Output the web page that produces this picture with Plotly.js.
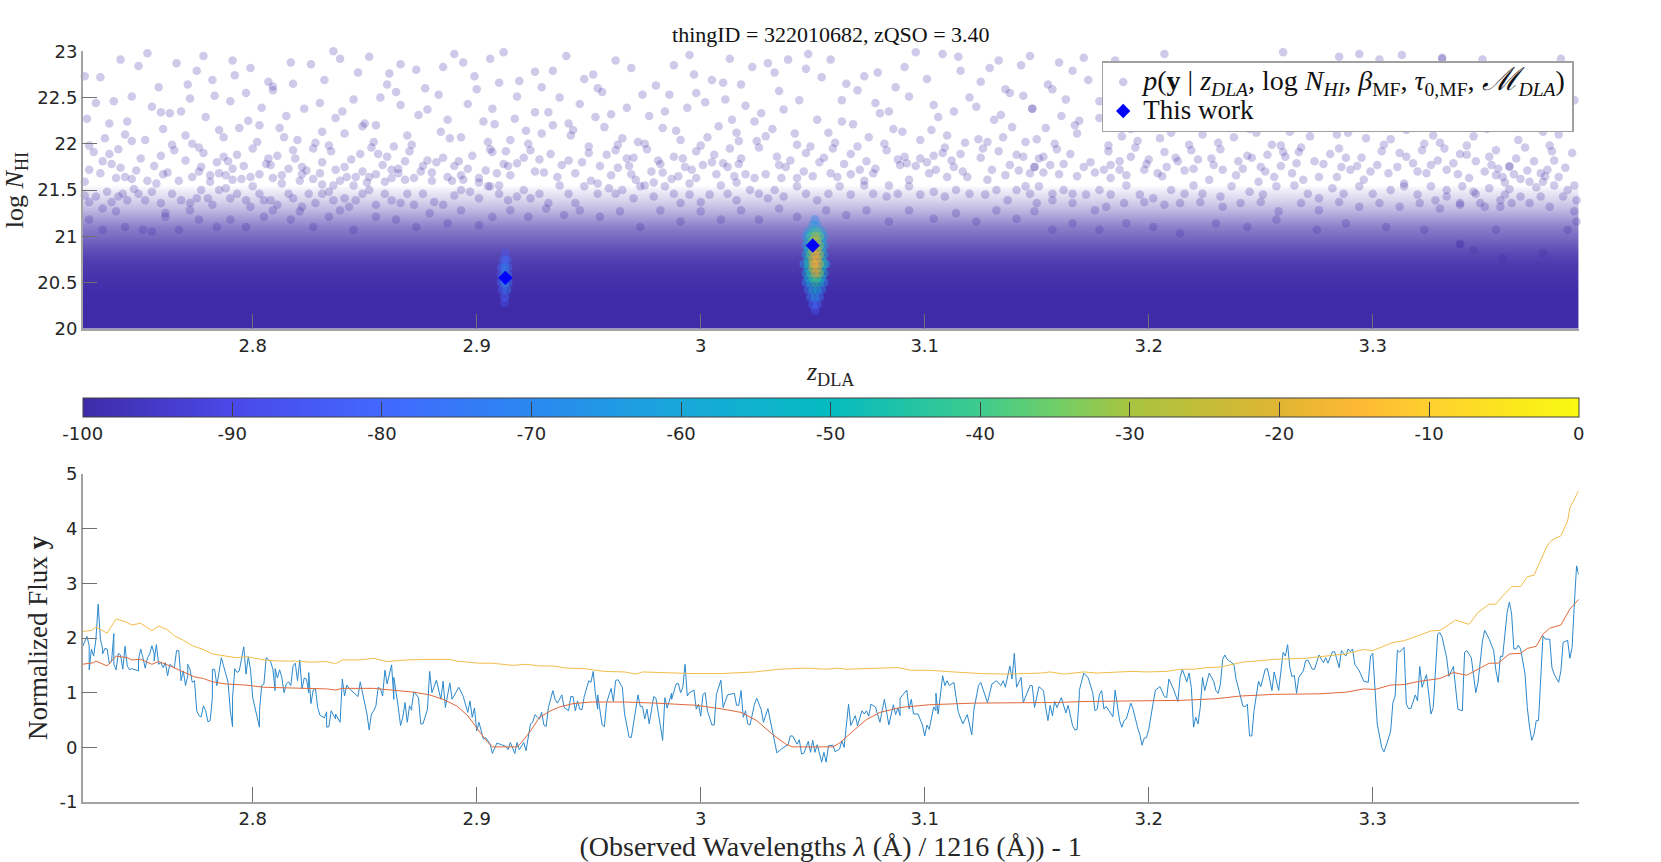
<!DOCTYPE html>
<html>
<head>
<meta charset="utf-8">
<script src="https://cdn.plot.ly/plotly-3.0.1.min.js"></script>
<style>html,body{margin:0;padding:0;background:#fff}</style>
</head>
<body>
<div id="chart" style="width:1661px;height:862px"></div>
<script>
/***** values, [z, value] *****/
var samplesLeft = [[2.725,22.73],[2.732,22.72],[2.741,22.91],[2.749,22.84],[2.753,22.98],[2.766,22.87],[2.778,22.95],[2.791,22.90],[2.799,22.82],[2.775,22.79],[2.792,22.74],[2.782,22.69],[2.771,22.64],[2.758,22.61],[2.746,22.51],[2.738,22.46],[2.730,22.44],[2.772,22.49],[2.783,22.52],[2.797,22.55],[2.790,22.46],[2.755,22.40],[2.759,22.34],[2.763,22.33],[2.768,22.35],[2.779,22.29],[2.726,22.27],[2.736,22.22],[2.744,22.24],[2.760,22.16],[2.785,22.15],[2.794,22.17],[2.798,22.25],[2.804,22.39],[2.803,22.20],[2.807,22.67],[2.809,22.62],[2.809,22.58],[2.817,22.88],[2.826,22.86],[2.818,22.65],[2.832,22.69],[2.836,23.00],[2.839,22.92],[2.852,22.94],[2.847,22.77],[2.866,22.86],[2.873,22.80],[2.861,22.76],[2.860,22.64],[2.864,22.56],[2.857,22.50],[2.866,22.42],[2.877,22.60],[2.883,22.53],[2.885,22.83],[2.890,22.97],[2.894,22.88],[2.906,22.92],[2.912,22.99],[2.899,22.73],[2.900,22.59],[2.910,22.66],[2.918,22.51],[2.919,22.68],[2.896,22.43],[2.907,22.38],[2.917,22.27],[2.903,22.24],[2.908,22.21],[2.887,22.26],[2.878,22.37],[2.874,22.31],[2.845,22.48],[2.840,22.35],[2.837,22.28],[2.850,22.22],[2.849,22.19],[2.855,22.20],[2.830,22.44],[2.823,22.38],[2.815,22.30],[2.812,22.17],[2.831,22.13],[2.841,22.11],[2.814,22.07],[2.787,22.07],[2.770,22.09],[2.743,22.10],[2.734,22.06],[2.746,22.03],[2.752,22.04],[2.773,22.00],[2.764,21.99],[2.776,21.96],[2.765,21.93],[2.778,21.90],[2.802,22.02],[2.800,21.95],[2.820,22.04],[2.828,22.01],[2.827,21.95],[2.818,21.93],[2.834,21.98],[2.835,21.92],[2.854,22.02],[2.853,21.96],[2.869,22.09],[2.863,21.97],[2.871,21.99],[2.870,21.92],[2.884,22.13],[2.888,22.06],[2.893,22.07],[2.905,22.02],[2.906,21.94],[2.907,21.91],[2.913,21.92],[2.915,22.04],[2.727,21.98],[2.729,21.91],[2.740,21.94],[2.736,21.89],[2.733,21.81],[2.737,21.78],[2.750,21.84],[2.759,21.87],[2.756,21.76],[2.770,21.82],[2.748,21.71],[2.741,21.74],[2.727,21.72],[2.732,21.68],[2.787,21.86],[2.784,21.80],[2.789,21.81],[2.793,21.88],[2.791,21.73],[2.796,21.76],[2.807,21.84],[2.806,21.78],[2.808,21.77],[2.811,21.87],[2.819,21.84],[2.816,21.73],[2.822,21.75],[2.831,21.80],[2.844,21.83],[2.848,21.89],[2.841,21.75],[2.837,21.72],[2.849,21.70],[2.856,21.89],[2.860,21.86],[2.858,21.77],[2.868,21.81],[2.865,21.73],[2.862,21.72],[2.855,21.67],[2.878,21.82],[2.876,21.76],[2.882,21.80],[2.885,21.85],[2.892,21.81],[2.898,21.87],[2.890,21.76],[2.896,21.73],[2.904,21.71],[2.912,21.78],[2.914,21.76],[2.918,21.79],[2.909,21.68],[2.915,21.66],[2.725,21.59],[2.743,21.64],[2.739,21.63],[2.746,21.62],[2.753,21.60],[2.757,21.57],[2.760,21.67],[2.762,21.69],[2.767,21.60],[2.773,21.64],[2.776,21.70],[2.777,21.75],[2.781,21.66],[2.781,21.59],[2.785,21.68],[2.788,21.66],[2.791,21.61],[2.795,21.62],[2.799,21.64],[2.800,21.54],[2.803,21.67],[2.809,21.63],[2.813,21.66],[2.813,21.57],[2.821,21.60],[2.822,21.67],[2.824,21.71],[2.827,21.62],[2.830,21.68],[2.831,21.56],[2.836,21.55],[2.839,21.60],[2.842,21.64],[2.846,21.64],[2.845,21.55],[2.852,21.64],[2.851,21.58],[2.859,21.59],[2.862,21.63],[2.865,21.68],[2.868,21.61],[2.872,21.63],[2.875,21.70],[2.880,21.69],[2.880,21.60],[2.887,21.64],[2.889,21.60],[2.893,21.66],[2.894,21.61],[2.901,21.63],[2.901,21.58],[2.905,21.54],[2.910,21.55]];
var samplesMiddle = [[2.940,22.95],[2.926,22.78],[2.934,22.79],[2.929,22.61],[2.937,22.50],[2.962,22.90],[2.969,22.82],[2.948,22.70],[2.952,22.75],[2.954,22.60],[2.956,22.56],[2.946,22.43],[2.926,22.34],[2.932,22.34],[2.941,22.22],[2.934,22.20],[2.943,22.15],[2.942,22.09],[2.953,22.29],[2.960,22.32],[2.967,22.39],[2.957,22.18],[2.922,22.14],[2.929,22.11],[2.923,22.00],[2.924,21.93],[2.921,21.85],[2.928,21.83],[2.933,21.89],[2.950,21.97],[2.950,21.90],[2.941,21.82],[2.938,21.77],[2.947,21.80],[2.965,22.06],[2.963,21.99],[2.962,21.93],[2.958,21.88],[2.967,21.84],[2.970,21.85],[2.955,21.76],[2.963,21.74],[2.968,21.76],[2.974,22.53],[2.980,22.63],[2.986,22.53],[2.988,22.85],[2.995,22.96],[2.997,22.75],[3.005,22.69],[3.010,22.66],[3.013,22.92],[3.018,22.64],[3.023,22.83],[3.030,22.87],[3.033,22.77],[3.039,22.91],[3.047,22.81],[3.048,22.97],[3.058,22.91],[3.054,22.72],[3.065,22.65],[3.073,22.73],[3.079,22.77],[3.091,22.83],[3.096,22.99],[3.108,22.97],[3.115,22.94],[3.116,22.79],[3.129,22.82],[3.133,22.90],[3.143,22.85],[3.147,22.95],[3.101,22.70],[3.087,22.61],[3.070,22.58],[3.035,22.57],[2.998,22.55],[3.002,22.45],[3.011,22.48],[3.020,22.41],[3.044,22.47],[3.063,22.47],[3.078,22.44],[3.093,22.51],[3.120,22.50],[3.125,22.67],[3.136,22.59],[3.138,22.55],[3.144,22.52],[3.123,22.40],[3.104,22.42],[3.106,22.29],[3.113,22.35],[3.084,22.35],[3.080,22.33],[3.148,22.38],[3.134,22.31],[3.131,22.26],[3.139,22.18],[2.994,22.39],[2.984,22.35],[2.977,22.30],[3.014,22.26],[3.024,22.24],[3.027,22.33],[3.037,22.37],[3.052,22.26],[3.063,22.24],[3.068,22.21],[3.008,22.19],[2.983,22.17],[2.989,22.14],[3.016,22.12],[3.032,22.16],[3.029,22.08],[3.042,22.11],[3.057,22.12],[3.075,22.07],[3.086,22.16],[3.090,22.13],[3.103,22.15],[3.110,22.09],[3.098,22.04],[3.124,22.05],[3.128,22.02],[3.135,22.07],[3.118,22.01],[3.145,22.02],[3.150,22.05],[2.991,22.04],[3.003,22.07],[3.017,22.03],[3.025,22.03],[3.026,21.96],[3.043,21.99],[3.049,21.97],[3.047,21.90],[3.060,22.01],[3.059,21.95],[3.070,21.97],[3.067,21.89],[3.082,22.00],[3.083,21.93],[3.109,21.96],[3.108,21.90],[3.116,21.89],[3.126,21.95],[3.133,21.92],[3.125,21.85],[3.141,21.88],[3.144,21.86],[2.972,22.02],[2.975,22.00],[2.976,21.94],[3.000,21.98],[2.998,21.92],[3.013,21.95],[3.006,21.88],[2.988,21.86],[2.992,21.84],[3.005,21.80],[3.001,21.77],[3.018,21.84],[3.017,21.78],[3.034,21.86],[3.040,21.82],[3.055,21.85],[3.053,21.80],[3.064,21.78],[3.074,21.81],[3.088,21.83],[3.091,21.86],[3.089,21.77],[3.092,21.79],[3.098,21.84],[3.096,21.76],[3.104,21.87],[3.101,21.80],[3.112,21.82],[3.113,21.75],[3.138,21.77],[3.130,21.72],[3.149,21.75],[3.151,21.84],[3.142,21.71],[3.147,21.68],[3.117,21.70],[3.105,21.72],[3.078,21.73],[3.071,21.72],[3.058,21.68],[3.046,21.70],[3.035,21.77],[3.038,21.75],[3.012,21.75],[3.010,21.79],[2.993,21.75],[2.996,21.72],[2.982,21.78],[2.981,21.82],[2.978,21.70],[2.983,21.69],[2.926,21.70],[2.930,21.69],[2.936,21.64],[2.944,21.68],[2.951,21.60],[2.954,21.57],[2.960,21.66],[2.969,21.67],[2.971,21.61],[2.973,21.54],[2.979,21.58],[2.987,21.62],[2.990,21.65],[2.995,21.57],[2.998,21.63],[3.007,21.67],[3.015,21.65],[3.016,21.58],[3.020,21.67],[3.024,21.63],[3.029,21.67],[3.036,21.63],[3.043,21.63],[3.050,21.65],[3.061,21.64],[3.067,21.67],[3.073,21.60],[3.077,21.68],[3.084,21.55],[3.093,21.61],[3.102,21.68],[3.110,21.64],[3.119,21.64],[3.128,21.61],[3.136,21.66],[3.145,21.54]];
var samplesRight = [[3.171,22.93],[3.160,22.88],[3.166,22.79],[3.155,22.64],[3.157,22.59],[3.173,22.69],[3.163,22.48],[3.148,22.38],[3.178,22.46],[3.161,22.30],[3.169,22.25],[3.167,22.20],[3.154,22.17],[3.168,22.11],[3.178,22.28],[3.207,22.97],[3.260,22.99],[3.285,22.94],[3.294,22.97],[3.313,22.96],[3.303,22.91],[3.331,22.92],[3.349,22.91],[3.185,22.90],[3.188,22.08],[3.195,22.03],[3.194,21.96],[3.192,22.16],[3.182,21.98],[3.182,21.92],[3.192,21.86],[3.205,22.06],[3.210,22.12],[3.224,22.10],[3.238,22.07],[3.245,22.16],[3.248,22.12],[3.263,22.13],[3.272,22.08],[3.284,22.10],[3.289,22.12],[3.297,22.06],[3.298,22.17],[3.315,22.15],[3.327,22.09],[3.337,22.18],[3.351,22.16],[3.345,22.08],[3.308,22.05],[3.305,21.99],[3.304,21.92],[3.218,21.99],[3.219,21.93],[3.231,22.01],[3.232,21.94],[3.255,21.99],[3.259,21.98],[3.261,21.86],[3.260,21.91],[3.268,21.96],[3.267,21.91],[3.285,21.95],[3.281,21.89],[3.323,22.00],[3.322,21.93],[3.330,22.01],[3.332,21.95],[3.342,21.98],[3.342,21.88],[3.339,21.89],[3.355,21.93],[3.352,21.86],[3.207,21.91],[3.165,21.89],[3.158,22.00],[3.159,21.94],[3.153,21.86],[3.174,21.80],[3.187,21.81],[3.183,21.77],[3.200,21.83],[3.199,21.78],[3.212,21.85],[3.213,21.81],[3.222,21.83],[3.228,21.84],[3.229,21.77],[3.240,21.81],[3.244,21.87],[3.246,21.85],[3.253,21.88],[3.250,21.75],[3.259,21.76],[3.266,21.79],[3.274,21.81],[3.278,21.78],[3.288,21.85],[3.286,21.75],[3.295,21.85],[3.302,21.77],[3.293,21.76],[3.311,21.75],[3.312,21.90],[3.315,21.86],[3.318,21.79],[3.329,21.82],[3.326,21.77],[3.336,21.79],[3.346,21.81],[3.353,21.77],[3.361,21.75],[3.149,21.75],[3.156,21.77],[3.162,21.78],[3.153,21.69],[3.160,21.67],[3.168,21.65],[3.171,21.75],[3.176,21.69],[3.180,21.72],[3.183,21.63],[3.187,21.72],[3.190,21.66],[3.198,21.72],[3.204,21.68],[3.206,21.65],[3.208,21.75],[3.216,21.71],[3.220,21.73],[3.227,21.61],[3.233,21.72],[3.239,21.66],[3.242,21.73],[3.249,21.59],[3.252,21.70],[3.256,21.64],[3.264,21.68],[3.269,21.61],[3.276,21.64],[3.284,21.64],[3.290,21.72],[3.296,21.61],[3.299,21.70],[3.307,21.68],[3.314,21.57],[3.320,21.70],[3.324,21.68],[3.333,21.72],[3.338,21.67],[3.343,21.63],[3.350,21.70],[3.355,21.66],[3.358,21.64],[3.331,22.93],[3.384,22.92],[3.388,22.80],[3.390,22.47],[3.376,22.13],[3.383,22.10],[3.365,22.04],[3.368,21.96],[3.379,21.98],[3.380,21.92],[3.389,21.90],[3.381,21.82],[3.364,21.84],[3.372,21.81],[3.361,21.76],[3.356,21.73],[3.386,21.74],[3.378,21.72],[3.369,21.71],[3.363,21.67],[3.375,21.68],[3.377,21.65],[3.383,21.64],[3.392,21.63],[3.366,21.62],[3.359,21.58],[3.370,21.59],[3.376,21.59],[3.381,21.55],[3.390,21.55],[3.361,21.51],[3.373,21.53],[3.387,21.50]];
// the crowded edge of the cloud, as far as single discs can still be made out
var samplesEdgeLeft = [[2.725,21.44],[2.727,21.37],[2.724,21.28],[2.730,21.43],[2.735,21.48],[2.733,21.30],[2.737,21.37],[2.740,21.43],[2.742,21.46],[2.744,21.39],[2.747,21.51],[2.749,21.46],[2.752,21.39],[2.755,21.48],[2.759,21.36],[2.761,21.25],[2.764,21.46],[2.768,21.39],[2.772,21.28],[2.772,21.36],[2.775,21.41],[2.777,21.50],[2.780,21.41],[2.782,21.34],[2.785,21.50],[2.788,21.52],[2.790,21.41],[2.793,21.46],[2.797,21.39],[2.799,21.32],[2.803,21.46],[2.805,21.39],[2.808,21.39],[2.811,21.34],[2.816,21.46],[2.818,21.41],[2.822,21.32],[2.825,21.46],[2.828,21.36],[2.831,21.46],[2.834,21.48],[2.836,21.39],[2.841,21.41],[2.843,21.32],[2.846,21.39],[2.849,21.46],[2.852,21.50],[2.855,21.34],[2.859,21.46],[2.862,21.39],[2.866,21.36],[2.869,21.46],[2.872,21.34],[2.876,21.46],[2.881,21.37],[2.885,21.34],[2.890,21.44],[2.893,21.50],[2.897,21.48],[2.901,21.41],[2.906,21.54],[2.910,21.46],[2.914,21.39],[2.918,21.43],[2.727,21.18],[2.733,21.07],[2.739,21.27],[2.743,21.10],[2.751,21.07],[2.755,21.05],[2.761,21.21],[2.767,21.07],[2.776,21.18],[2.784,21.10],[2.790,21.18],[2.797,21.10],[2.805,21.21],[2.809,21.28],[2.817,21.18],[2.821,21.27],[2.827,21.10],[2.834,21.21],[2.839,21.28],[2.845,21.07],[2.855,21.21],[2.864,21.18],[2.873,21.10],[2.879,21.25],[2.887,21.14],[2.893,21.28],[2.901,21.12],[2.907,21.21],[2.915,21.28]];
var samplesEdgeMiddle = [[2.921,21.50],[2.924,21.41],[2.928,21.46],[2.932,21.36],[2.937,21.55],[2.941,21.46],[2.944,21.36],[2.948,21.54],[2.954,21.46],[2.959,21.52],[2.962,21.46],[2.965,21.50],[2.970,21.41],[2.975,21.55],[2.979,21.43],[2.984,21.54],[2.988,21.46],[2.991,21.36],[2.995,21.45],[3.000,21.37],[3.004,21.45],[3.009,21.55],[3.012,21.46],[3.016,21.39],[3.022,21.50],[3.026,21.46],[3.030,21.41],[3.033,21.50],[3.037,21.43],[3.043,21.54],[3.047,21.46],[3.052,21.39],[3.057,21.46],[3.062,21.54],[3.067,21.45],[3.073,21.55],[3.077,21.46],[3.083,21.43],[3.088,21.46],[3.093,21.54],[3.098,21.45],[3.104,21.48],[3.109,21.43],[3.114,21.50],[3.120,21.46],[3.127,21.45],[3.132,21.50],[3.137,21.39],[3.141,21.50],[3.147,21.46],[2.923,21.21],[2.931,21.30],[2.939,21.23],[2.946,21.28],[2.955,21.21],[2.964,21.27],[2.973,21.10],[2.982,21.28],[2.991,21.16],[3.000,21.27],[3.009,21.18],[3.018,21.28],[3.026,21.18],[3.035,21.30],[3.043,21.21],[3.056,21.28],[3.065,21.23],[3.074,21.28],[3.084,21.16],[3.093,21.28],[3.104,21.19],[3.114,21.25],[3.123,21.16],[3.132,21.28],[3.141,21.19],[3.149,21.27]];
var samplesEdgeRight = [[3.151,21.54],[3.157,21.46],[3.162,21.50],[3.166,21.46],[3.172,21.45],[3.178,21.50],[3.183,21.45],[3.190,21.55],[3.196,21.45],[3.202,21.41],[3.210,21.50],[3.216,21.46],[3.220,21.55],[3.224,21.46],[3.232,21.43],[3.237,21.54],[3.245,21.48],[3.251,21.45],[3.257,21.54],[3.265,21.55],[3.271,21.46],[3.276,21.41],[3.282,21.52],[3.287,21.46],[3.294,21.54],[3.300,21.46],[3.308,21.50],[3.314,21.54],[3.320,21.45],[3.326,21.54],[3.333,21.50],[3.340,21.54],[3.346,21.46],[3.352,21.52],[3.359,21.45],[3.150,21.36],[3.157,21.39],[3.166,21.36],[3.176,21.28],[3.181,21.32],[3.189,21.36],[3.198,21.37],[3.207,21.34],[3.214,21.36],[3.223,21.37],[3.233,21.32],[3.241,21.36],[3.250,21.37],[3.258,21.27],[3.268,21.36],[3.276,21.28],[3.285,21.37],[3.294,21.32],[3.303,21.36],[3.312,21.32],[3.321,21.36],[3.330,21.30],[3.339,21.34],[3.348,21.36],[3.357,21.32],[3.157,21.07],[3.166,21.14],[3.178,21.07],[3.190,21.14],[3.202,21.10],[3.214,21.03],[3.230,21.14],[3.244,21.10],[3.257,21.18],[3.275,21.07],[3.288,21.14],[3.306,21.10],[3.323,21.07],[3.339,20.92],[3.355,21.07],[3.328,21.39],[3.333,21.43],[3.339,21.36],[3.345,21.48],[3.350,21.32],[3.357,21.39],[3.362,21.36],[3.366,21.43],[3.370,21.36],[3.375,21.43],[3.379,21.32],[3.385,21.43],[3.391,21.39],[3.390,21.27],[3.391,21.16],[3.387,21.07],[3.376,20.82],[3.339,20.91],[3.358,20.76],[3.345,20.85]];

// density of the sample cloud below the loose points, fraction of full colour per log N row
var bandLogN = [20, 20.2, 20.4, 20.5, 20.6, 20.7, 20.8, 20.9, 21, 21.1, 21.2, 21.3, 21.4, 21.5, 21.56];
var bandDensity = [1, 1, 0.99, 0.97, 0.95, 0.92, 0.87, 0.79, 0.7, 0.6, 0.46, 0.32, 0.2, 0.08, 0];
var bandZ = [2.7241, 3.3919];

// [z, log N, log likelihood relative to the peak]
var peakSamples = [[3.051,21.18,-70],[3.050,21.12,-62],[3.052,21.12,-65],[3.048,21.05,-60],[3.050,21.05,-45],[3.052,21.05,-40],[3.054,21.05,-60],[3.047,21.0,-65],[3.049,21.0,-40],[3.051,21.0,-30],[3.053,21.0,-35],[3.055,21.0,-62],[3.048,20.95,-55],[3.050,20.95,-32],[3.052,20.95,-28],[3.054,20.95,-52],[3.047,20.9,-62],[3.049,20.9,-35],[3.051,20.9,-22],[3.053,20.9,-32],[3.055,20.9,-60],[3.048,20.85,-50],[3.050,20.85,-26],[3.052,20.85,-22],[3.054,20.85,-48],[3.047,20.8,-60],[3.049,20.8,-35],[3.051,20.8,-18],[3.053,20.8,-25],[3.055,20.8,-55],[3.048,20.75,-48],[3.050,20.75,-20],[3.052,20.75,-16],[3.054,20.75,-45],[3.046,20.7,-65],[3.048,20.7,-45],[3.050,20.7,-25],[3.051,20.7,-14],[3.053,20.7,-20],[3.055,20.7,-45],[3.056,20.7,-65],[3.048,20.65,-50],[3.050,20.65,-24],[3.052,20.65,-22],[3.054,20.65,-48],[3.047,20.6,-60],[3.049,20.6,-42],[3.051,20.6,-20],[3.053,20.6,-30],[3.055,20.6,-55],[3.048,20.55,-56],[3.050,20.55,-40],[3.052,20.55,-38],[3.054,20.55,-54],[3.047,20.5,-68],[3.049,20.5,-55],[3.051,20.5,-42],[3.053,20.5,-48],[3.055,20.5,-65],[3.048,20.42,-72],[3.050,20.42,-58],[3.052,20.42,-55],[3.054,20.42,-70],[3.049,20.34,-72],[3.051,20.34,-65],[3.053,20.34,-72],[3.050,20.26,-78],[3.052,20.26,-78],[3.051,20.2,-85],[2.9128,20.82,-85],[2.912,20.74,-78],[2.9135,20.74,-78],[2.911,20.66,-80],[2.9125,20.66,-68],[2.914,20.66,-78],[2.911,20.58,-78],[2.9125,20.58,-65],[2.914,20.58,-75],[2.911,20.5,-78],[2.9125,20.5,-66],[2.914,20.5,-76],[2.9115,20.42,-78],[2.9135,20.42,-72],[2.9125,20.34,-80],[2.9125,20.28,-88]];

var thisWorkZ = [2.9128, 3.05];
var thisWorkLogN = [20.55, 20.9];

var fluxSpectrum = [[2.724,1.84],[2.726,2.03],[2.727,1.86],[2.727,1.42],[2.728,1.80],[2.729,1.67],[2.730,1.98],[2.731,2.62],[2.732,1.98],[2.733,1.80],[2.733,1.71],[2.734,1.81],[2.735,1.80],[2.736,1.53],[2.737,1.58],[2.738,2.08],[2.738,1.52],[2.739,1.42],[2.740,1.72],[2.741,1.69],[2.742,1.43],[2.743,1.85],[2.744,1.49],[2.745,1.42],[2.746,1.44],[2.747,1.43],[2.749,1.40],[2.749,1.61],[2.750,1.80],[2.751,1.64],[2.752,1.45],[2.753,1.64],[2.754,1.71],[2.755,1.86],[2.756,1.71],[2.756,1.58],[2.757,1.88],[2.758,1.52],[2.759,1.55],[2.760,1.46],[2.761,1.55],[2.762,1.31],[2.763,1.52],[2.765,1.45],[2.765,1.46],[2.766,1.77],[2.767,1.77],[2.768,1.22],[2.769,1.40],[2.770,1.13],[2.771,1.31],[2.771,1.52],[2.772,1.43],[2.773,1.19],[2.774,1.22],[2.775,0.67],[2.776,0.58],[2.777,0.56],[2.778,0.76],[2.779,0.67],[2.780,0.47],[2.781,0.49],[2.782,0.91],[2.782,1.43],[2.783,1.43],[2.784,1.13],[2.786,1.64],[2.787,1.49],[2.789,1.19],[2.790,0.67],[2.791,0.38],[2.791,0.91],[2.792,1.44],[2.793,1.37],[2.794,1.40],[2.796,1.84],[2.797,1.46],[2.797,1.34],[2.798,1.66],[2.799,1.43],[2.800,0.91],[2.802,0.55],[2.803,0.37],[2.803,0.67],[2.804,1.13],[2.805,1.16],[2.806,1.64],[2.808,1.57],[2.809,1.43],[2.810,1.04],[2.810,1.44],[2.811,1.27],[2.812,1.42],[2.813,1.28],[2.814,1.00],[2.815,1.16],[2.816,1.20],[2.817,1.13],[2.818,1.49],[2.819,1.54],[2.820,1.22],[2.821,1.60],[2.822,1.07],[2.823,1.27],[2.824,1.25],[2.825,1.00],[2.825,1.37],[2.826,0.80],[2.827,1.05],[2.828,1.08],[2.829,0.73],[2.830,0.59],[2.832,0.54],[2.833,0.65],[2.833,0.37],[2.834,0.38],[2.835,0.67],[2.837,0.52],[2.837,0.61],[2.839,0.46],[2.840,1.25],[2.841,0.94],[2.842,1.14],[2.843,1.08],[2.845,1.00],[2.847,0.93],[2.848,1.20],[2.850,0.79],[2.851,0.61],[2.852,0.32],[2.853,0.61],[2.854,0.67],[2.855,0.76],[2.856,1.10],[2.857,1.07],[2.858,0.94],[2.859,1.41],[2.860,1.16],[2.862,1.51],[2.863,0.88],[2.863,1.28],[2.865,0.73],[2.866,0.40],[2.867,0.55],[2.868,0.82],[2.869,0.46],[2.870,0.76],[2.871,0.68],[2.871,0.76],[2.872,1.02],[2.874,0.91],[2.875,0.43],[2.876,0.43],[2.878,0.70],[2.879,1.28],[2.879,1.39],[2.880,1.00],[2.882,1.23],[2.884,0.88],[2.885,1.21],[2.886,0.73],[2.888,1.18],[2.889,0.88],[2.892,1.10],[2.894,0.93],[2.896,0.64],[2.897,0.85],[2.898,0.55],[2.899,0.72],[2.900,0.30],[2.901,0.46],[2.903,0.15],[2.904,0.18],[2.906,0.06],[2.907,-0.11],[2.909,0.08],[2.911,0.05],[2.913,0.02],[2.914,-0.04],[2.915,0.09],[2.917,-0.11],[2.918,0.09],[2.919,-0.04],[2.921,0.09],[2.922,-0.06],[2.924,0.43],[2.925,0.46],[2.926,0.60],[2.928,0.52],[2.929,0.64],[2.930,0.41],[2.931,0.38],[2.932,0.73],[2.934,1.04],[2.935,0.88],[2.936,0.81],[2.938,0.96],[2.939,0.73],[2.941,0.67],[2.942,0.93],[2.943,0.93],[2.944,0.67],[2.945,0.85],[2.946,0.70],[2.947,0.69],[2.948,0.93],[2.950,1.22],[2.951,1.19],[2.952,1.39],[2.953,0.97],[2.954,0.70],[2.954,0.96],[2.956,0.41],[2.957,0.38],[2.958,0.82],[2.960,1.08],[2.961,0.84],[2.962,1.22],[2.963,1.24],[2.965,1.10],[2.966,0.61],[2.968,0.19],[2.969,0.18],[2.971,0.73],[2.972,0.96],[2.973,0.75],[2.974,0.75],[2.975,0.52],[2.976,0.70],[2.977,0.43],[2.979,0.93],[2.980,0.90],[2.983,0.13],[2.984,0.91],[2.985,0.72],[2.987,0.99],[2.987,0.88],[2.989,1.16],[2.990,1.17],[2.991,1.00],[2.992,1.10],[2.993,1.52],[2.994,0.94],[2.995,1.00],[2.997,1.05],[2.998,0.70],[2.999,0.79],[3.000,0.57],[3.001,0.97],[3.002,1.00],[3.003,0.67],[3.005,0.41],[3.006,0.41],[3.007,0.97],[3.009,1.23],[3.010,0.73],[3.012,0.96],[3.015,0.99],[3.016,0.77],[3.017,0.77],[3.018,1.04],[3.019,0.55],[3.020,0.67],[3.021,0.43],[3.022,0.41],[3.024,0.79],[3.025,0.90],[3.027,0.69],[3.028,0.46],[3.030,0.71],[3.032,0.30],[3.033,0.12],[3.034,-0.10],[3.036,-0.03],[3.039,0.05],[3.040,0.21],[3.041,0.21],[3.043,0.06],[3.044,0.14],[3.045,-0.12],[3.046,-0.11],[3.048,0.11],[3.049,-0.09],[3.050,0.13],[3.051,-0.09],[3.052,0.05],[3.054,-0.27],[3.055,-0.09],[3.056,-0.27],[3.057,0.03],[3.059,0.04],[3.060,-0.08],[3.062,-0.03],[3.063,0.12],[3.064,0],[3.066,0.79],[3.067,0.40],[3.069,0.58],[3.070,0.40],[3.072,0.67],[3.073,0.61],[3.074,0.67],[3.075,0.57],[3.076,0.79],[3.078,0.74],[3.080,0.46],[3.082,0.88],[3.084,0.41],[3.086,0.78],[3.087,0.60],[3.088,0.72],[3.089,0.58],[3.089,0.90],[3.092,1.05],[3.093,0.70],[3.094,0.88],[3.095,0.61],[3.097,0.61],[3.099,0.41],[3.100,0.21],[3.101,0.41],[3.102,0.33],[3.104,0.74],[3.105,0.67],[3.105,0.99],[3.106,0.61],[3.108,1.31],[3.109,1.13],[3.110,1.22],[3.111,1.13],[3.113,1.19],[3.115,0.64],[3.117,0.43],[3.119,0.60],[3.121,0.23],[3.122,0.70],[3.124,1.13],[3.125,1.19],[3.128,0.82],[3.130,1.16],[3.132,1.22],[3.134,1.13],[3.135,1.22],[3.136,1.10],[3.138,1.49],[3.139,1.25],[3.140,1.72],[3.141,1.10],[3.143,1.28],[3.144,0.82],[3.147,1.13],[3.148,1.13],[3.149,0.73],[3.151,1.11],[3.153,1.04],[3.154,0.73],[3.155,0.49],[3.156,0.77],[3.157,0.58],[3.158,0.84],[3.159,0.73],[3.161,0.91],[3.163,0.63],[3.164,0.77],[3.166,0.40],[3.167,0.32],[3.168,0.33],[3.169,0.94],[3.169,1.04],[3.171,1.36],[3.173,1.27],[3.175,1.00],[3.176,0.67],[3.177,0.70],[3.178,0.97],[3.179,1.04],[3.180,0.70],[3.181,0.75],[3.183,0.61],[3.184,0.56],[3.185,1.05],[3.185,1.04],[3.187,0.49],[3.188,0.37],[3.189,0.49],[3.190,0.52],[3.192,0.81],[3.193,0.70],[3.195,0.37],[3.196,0.24],[3.197,0.04],[3.198,0.17],[3.199,0.18],[3.200,0.33],[3.202,0.82],[3.203,1.05],[3.205,1.11],[3.207,0.93],[3.208,0.91],[3.209,1.25],[3.211,1.07],[3.213,0.84],[3.214,1.28],[3.215,1.43],[3.217,1.20],[3.217,1.20],[3.218,1.36],[3.219,1.10],[3.220,0.37],[3.221,0.55],[3.222,0.43],[3.223,0.73],[3.224,1.28],[3.225,1.04],[3.227,1.36],[3.229,1.21],[3.230,1.04],[3.231,0.99],[3.232,1.16],[3.233,1.61],[3.234,1.69],[3.235,1.61],[3.238,1.52],[3.239,1.25],[3.240,1.10],[3.242,0.76],[3.243,0.74],[3.244,0.79],[3.245,0.21],[3.246,0.21],[3.247,0.67],[3.249,1.21],[3.250,1.11],[3.252,1.43],[3.253,1.44],[3.255,1.04],[3.256,1.38],[3.258,1.04],[3.260,1.74],[3.261,1.67],[3.262,1.88],[3.263,1.46],[3.264,1.29],[3.265,1.32],[3.266,0.99],[3.267,1.28],[3.269,1.40],[3.270,1.58],[3.271,1.60],[3.273,1.43],[3.274,1.43],[3.276,1.69],[3.278,1.55],[3.279,1.64],[3.280,1.54],[3.282,1.75],[3.283,1.75],[3.285,1.46],[3.286,1.77],[3.288,1.67],[3.289,1.80],[3.290,1.75],[3.291,1.80],[3.292,1.52],[3.294,1.40],[3.296,1.21],[3.298,1.19],[3.299,1.67],[3.300,1.72],[3.301,1.10],[3.302,0.43],[3.304,0],[3.305,-0.08],[3.306,0.03],[3.308,0.30],[3.309,0.82],[3.310,0.94],[3.311,1.78],[3.312,1.74],[3.314,1.83],[3.315,0.79],[3.316,0.71],[3.317,0.71],[3.319,0.96],[3.320,0.85],[3.321,1.48],[3.322,1.10],[3.324,1.33],[3.326,0.61],[3.327,0.73],[3.329,2.07],[3.330,2.10],[3.331,2.01],[3.333,1.64],[3.334,1.30],[3.336,1.48],[3.338,0.70],[3.340,0.67],[3.341,1.74],[3.342,1.77],[3.344,1.64],[3.346,1.00],[3.347,1.19],[3.349,1.95],[3.350,2.14],[3.352,1.98],[3.354,1.77],[3.355,1.40],[3.356,1.19],[3.357,1.67],[3.358,1.66],[3.359,2.07],[3.360,2.47],[3.361,2.66],[3.362,2.44],[3.363,1.80],[3.364,1.80],[3.365,1.87],[3.366,1.80],[3.368,1.34],[3.369,0.73],[3.370,0.37],[3.371,0.13],[3.372,0.24],[3.373,0.49],[3.374,0.49],[3.375,1.16],[3.376,2.04],[3.377,1.98],[3.379,1.98],[3.380,1.46],[3.381,1.34],[3.383,1.19],[3.384,1.40],[3.385,1.92],[3.387,1.96],[3.388,1.63],[3.389,1.83],[3.390,2.62],[3.391,3.32],[3.392,3.15]];

var modelMean = [[2.724,1.52],[2.729,1.55],[2.730,1.58],[2.735,1.49],[2.739,1.67],[2.744,1.64],[2.746,1.60],[2.750,1.61],[2.755,1.52],[2.758,1.57],[2.762,1.51],[2.768,1.40],[2.774,1.29],[2.778,1.26],[2.782,1.20],[2.788,1.16],[2.797,1.14],[2.805,1.10],[2.818,1.08],[2.833,1.07],[2.837,1.05],[2.840,1.08],[2.854,1.08],[2.863,1.04],[2.872,1.01],[2.879,0.96],[2.885,0.88],[2.891,0.76],[2.896,0.58],[2.901,0.30],[2.905,0.09],[2.907,0.01],[2.918,0.01],[2.920,0.09],[2.924,0.30],[2.928,0.55],[2.933,0.67],[2.937,0.74],[2.943,0.80],[2.951,0.83],[2.966,0.83],[2.980,0.81],[2.998,0.77],[3.010,0.70],[3.018,0.64],[3.025,0.49],[3.032,0.24],[3.038,0.06],[3.041,0.01],[3.059,0.01],[3.062,0.08],[3.068,0.30],[3.074,0.51],[3.080,0.64],[3.089,0.73],[3.102,0.78],[3.122,0.81],[3.152,0.82],[3.157,0.82],[3.172,0.84],[3.195,0.85],[3.214,0.86],[3.230,0.89],[3.241,0.94],[3.256,0.97],[3.276,0.98],[3.288,1.01],[3.296,1.07],[3.301,1.06],[3.308,1.14],[3.314,1.15],[3.321,1.21],[3.330,1.26],[3.336,1.37],[3.342,1.32],[3.348,1.46],[3.352,1.54],[3.356,1.54],[3.361,1.71],[3.366,1.72],[3.369,1.81],[3.373,1.85],[3.376,2.07],[3.379,2.18],[3.384,2.24],[3.388,2.53],[3.392,2.71]];

var modelUpper = [[2.724,2.12],[2.728,2.14],[2.730,2.20],[2.735,2.09],[2.739,2.35],[2.743,2.30],[2.746,2.24],[2.750,2.27],[2.755,2.13],[2.758,2.22],[2.762,2.15],[2.765,2.04],[2.769,1.96],[2.773,1.86],[2.778,1.79],[2.782,1.71],[2.788,1.67],[2.793,1.64],[2.797,1.66],[2.805,1.60],[2.811,1.58],[2.818,1.58],[2.826,1.56],[2.833,1.57],[2.837,1.53],[2.840,1.60],[2.848,1.60],[2.854,1.63],[2.860,1.57],[2.869,1.60],[2.878,1.61],[2.888,1.61],[2.891,1.58],[2.901,1.54],[2.907,1.54],[2.916,1.50],[2.922,1.52],[2.928,1.49],[2.934,1.49],[2.940,1.45],[2.948,1.44],[2.957,1.39],[2.966,1.38],[2.971,1.34],[2.974,1.38],[2.988,1.36],[2.997,1.35],[3.009,1.35],[3.024,1.38],[3.035,1.43],[3.047,1.45],[3.056,1.43],[3.061,1.45],[3.065,1.43],[3.077,1.44],[3.088,1.46],[3.094,1.41],[3.102,1.41],[3.113,1.38],[3.125,1.35],[3.137,1.34],[3.152,1.36],[3.156,1.38],[3.162,1.34],[3.171,1.38],[3.177,1.36],[3.187,1.38],[3.193,1.39],[3.199,1.38],[3.208,1.39],[3.214,1.43],[3.220,1.43],[3.226,1.46],[3.232,1.47],[3.242,1.56],[3.256,1.61],[3.270,1.63],[3.276,1.66],[3.288,1.71],[3.296,1.79],[3.300,1.77],[3.309,1.92],[3.314,1.95],[3.320,2.04],[3.326,2.13],[3.330,2.14],[3.337,2.33],[3.343,2.25],[3.347,2.47],[3.352,2.62],[3.355,2.62],[3.358,2.77],[3.362,2.94],[3.366,2.94],[3.369,3.12],[3.372,3.15],[3.375,3.41],[3.378,3.70],[3.380,3.79],[3.384,3.87],[3.387,4.14],[3.388,4.38],[3.392,4.70]];

var zTicks = [2.8, 2.9, 3, 3.1, 3.2, 3.3];
var logNTicks = [20, 20.5, 21, 21.5, 22, 22.5, 23];
var fluxTicks = [-1, 0, 1, 2, 3, 4, 5];
var fluxTickText = ['-1', '0', '1', '2', '3', '4', '5'];
var likelihoodTicks = [-100, -90, -80, -70, -60, -50, -40, -30, -20, -10, 0];
var likelihoodTickText = ['-100', '-90', '-80', '-70', '-60', '-50', '-40', '-30', '-20', '-10', '0'];
var zRange = [2.7241, 3.3919];

var parula = [[0, '#3f2ba8'], [0.1, '#4a48e8'], [0.2, '#4268ff'], [0.3, '#2a88f0'], [0.4, '#18a8da'], [0.5, '#05bbc0'], [0.6, '#3ecb8c'], [0.65, '#70ce68'], [0.7, '#a8c43f'], [0.8, '#e0b532'], [0.85, '#fdb835'], [0.9, '#ffd02e'], [1, '#f9fa10']];

var W = 1661, H = 862;
function first(p) { return p[0]; }
function second(p) { return p[1]; }
function third(p) { return p[2]; }
// y position in the page, from the top, to a paper fraction
function py(v) { return 1 - v / H; }

var samples = samplesEdgeLeft.concat(samplesEdgeMiddle, samplesEdgeRight, samplesLeft, samplesMiddle, samplesRight);
var peak = peakSamples.slice().sort(function (a, b) { return a[2] - b[2]; });

var axisStyle = {
  showgrid: false,
  zeroline: false,
  showline: true,
  linecolor: '#a3a3a3',
  linewidth: 1.5,
  ticks: 'inside',
  ticklen: 15,
  tickwidth: 1,
  tickcolor: '#707070',
  tickfont: {family: 'DejaVu Sans', size: 18, color: '#262626'}
};
function axis(extra) { return Object.assign({}, axisStyle, extra); }

var serif = 'Liberation Serif';

var band = {
  type: 'heatmap',
  x: bandZ,
  y: bandLogN,
  z: bandDensity.map(function (v) { return [v, v]; }),
  zmin: 0,
  zmax: 1,
  zsmooth: 'best',
  colorscale: [[0, '#ffffff'], [1, '#3f2ba8']],
  showscale: false,
  hoverinfo: 'skip'
};

var cloud = {
  type: 'scatter',
  mode: 'markers',
  x: samples.map(first),
  y: samples.map(second),
  name: '<span style="font-size:28px"><i>p</i>(<b>y</b> | <i>z<sub>DLA</sub></i>,&nbsp;log&nbsp;<i>N<sub>HI</sub></i>,&nbsp;<i>β</i><sub>MF</sub>,&nbsp;<i>τ</i><sub>0,MF</sub>,&nbsp;<i><span style="font-size:32px">ℳ</span><sub>DLA</sub></i>)</span>',
  marker: {color: '#3f2ba8', opacity: 0.25, size: 8.5},
  cliponaxis: false
};

var likelihood = {
  type: 'scatter',
  mode: 'markers',
  x: peak.map(first),
  y: peak.map(second),
  showlegend: false,
  marker: {
    color: peak.map(third),
    cmin: -100,
    cmax: 0,
    colorscale: parula,
    opacity: 0.42,
    size: 9,
    colorbar: {
      orientation: 'h',
      lenmode: 'pixels',
      len: 1495.9,
      thicknessmode: 'pixels',
      thickness: 18.7,
      x: 82.7 / W,
      xanchor: 'left',
      y: py(398.2),
      yanchor: 'top',
      xpad: 0,
      ypad: 0,
      outlinecolor: '#404040',
      outlinewidth: 1,
      tickmode: 'array',
      tickvals: likelihoodTicks,
      ticktext: likelihoodTickText,
      ticks: 'inside',
      ticklen: 15,
      tickwidth: 1,
      tickcolor: '#404040',
      tickfont: {family: 'DejaVu Sans', size: 18, color: '#262626'}
    }
  }
};

var thisWork = {
  type: 'scatter',
  mode: 'markers',
  x: thisWorkZ,
  y: thisWorkLogN,
  name: '<span style="font-size:27px">This work</span>',
  marker: {color: '#0000ff', symbol: 'diamond', size: 11}
};

function spectrumLine(pairs, color) {
  return {
    type: 'scatter',
    mode: 'lines',
    x: pairs.map(first),
    y: pairs.map(second),
    xaxis: 'x2',
    yaxis: 'y2',
    showlegend: false,
    line: {color: color, width: 1}
  };
}

var data = [
  band, cloud, likelihood, thisWork,
  spectrumLine(fluxSpectrum, '#2b88cc'),
  spectrumLine(modelMean, '#e0683a'),
  spectrumLine(modelUpper, '#f2bd4a')
];

var layout = {
  width: W,
  height: H,
  paper_bgcolor: '#fff',
  plot_bgcolor: '#fff',
  margin: {l: 0, r: 0, t: 0, b: 0, pad: 0, autoexpand: false},
  title: {
    text: 'thingID = 322010682, zQSO = 3.40',
    font: {family: serif, size: 22, color: '#111'},
    xref: 'paper',
    x: 830.8 / W,
    xanchor: 'center',
    yref: 'paper',
    y: py(34),
    yanchor: 'middle'
  },
  xaxis: axis({
    domain: [82.7 / W, 1578.6 / W],
    range: zRange,
    tickmode: 'array',
    tickvals: zTicks,
    anchor: 'y',
    title: {text: '<i>z</i><sub>DLA</sub>', font: {family: serif, size: 26, color: '#262626'}, standoff: 7}
  }),
  yaxis: axis({
    domain: [py(328.7), py(51.3)],
    range: [20, 23],
    tickmode: 'array',
    tickvals: logNTicks,
    anchor: 'x',
    title: {text: 'log <i>N</i><sub>HI</sub>', font: {family: serif, size: 26, color: '#262626'}, standoff: 13}
  }),
  xaxis2: axis({
    domain: [82.7 / W, 1578.6 / W],
    range: zRange,
    tickmode: 'array',
    tickvals: zTicks,
    anchor: 'y2',
    title: {text: '(Observed Wavelengths <i>λ</i> (Å) / 1216 (Å)) - 1', font: {family: serif, size: 28, color: '#262626'}, standoff: 12}
  }),
  yaxis2: axis({
    domain: [py(802.1), py(474)],
    range: [-1, 5],
    tickmode: 'array',
    tickvals: fluxTicks,
    ticktext: fluxTickText,
    anchor: 'x2',
    title: {text: 'Normalized Flux <b>y</b>', font: {family: serif, size: 27, color: '#262626'}, standoff: 4}
  }),
  legend: {
    x: 1101.7 / W,
    xanchor: 'left',
    y: py(61),
    yanchor: 'top',
    bgcolor: '#fff',
    bordercolor: '#a0a0a0',
    borderwidth: 1.5,
    itemsizing: 'trace',
    tracegroupgap: 0,
    font: {family: serif, size: 20, color: '#111'}
  }
};

Plotly.newPlot('chart', data, layout, {displayModeBar: false, responsive: false});
</script>
</body>
</html>
